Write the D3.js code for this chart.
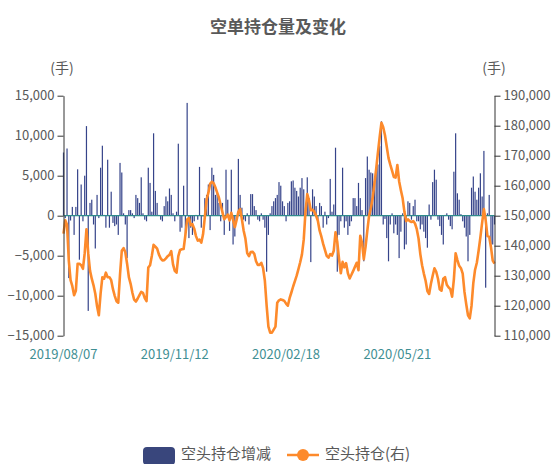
<!DOCTYPE html>
<html>
<head>
<meta charset="utf-8">
<script src="https://cdn.jsdelivr.net/npm/d3@7"></script>
<style>
  body { margin: 0; background: #fff; }
  svg text { font-family: "Noto Sans CJK SC", "Noto Sans", sans-serif; }
</style>
</head>
<body>
<script>
// trading calendar: first day and exchange holidays
const startDate = "2019-08-07";
const holidays = ["2019-09-13", "2019-10-01", "2019-10-02", "2019-10-03", "2019-10-04", "2019-10-07",
  "2020-01-01", "2020-01-24", "2020-01-27", "2020-01-28", "2020-01-29", "2020-01-30", "2020-01-31",
  "2020-04-06", "2020-05-01", "2020-05-04", "2020-05-05", "2020-06-25", "2020-06-26"];

// 空头持仓增减 (left axis)
const changeVals = [
  7900, -300, 8400, -7800, -600, 1100, -2400, 1100, 5800, -5500,
  3900, -700, 5000, 11200, -11900, 1600, 2000, -1100, -4100, 2600,
  -300, 6000, 8750, 100, -1500, 7000, -1500, 3000, -900, -1300,
  -1100, -2400, 6600, 5400, 300, -1100, -5300, 700, 700, 300,
  -300, 2600, 2200, 1600, 4800, 300, -500, -700, 6000, 4100,
  500, 10300, 3100, 1600, 100, -500, -700, 1200, 2400, 1800,
  3400, 2600, 300, -700, 500, 9000, -2000, -1500, 3750, -2800,
  14100, -2800, -1500, -2400, -700, 100, -500, 6100, -1500, -100,
  2200, 2600, 3900, -1800, 6000, 5100, 2600, 3000, 1600, -700,
  1600, -2400, 5750, 2000, -1900, 5750, -3600, -2600, -500, 7100,
  2600, 1000, -500, -700, 300, -1100, 2700, 2700, 1200, 700,
  -500, -700, 300, -500, -1500, -7000, -2400, 300, 1200, 1800,
  2200, 2600, 4200, 3750, 1800, 1200, -700, 1600, 1800, 4300,
  4400, 3500, 3100, 2400, 3500, 4700, 3300, 1000, 4800, 2200,
  -5800, 3300, 2400, 1200, -700, 1600, 1200, -1500, 500, -1100,
  -300, 4600, 500, 1400, 8500, -7000, -2400, -700, 6000, -1500,
  -700, -2400, -1300, -700, 2200, 2200, 1200, 4100, 2200, 700,
  -5700, 4700, 7400, 5750, 5400, 5300, 4300, 6000, 6400, 8700,
  11800, -1100, -400, -2800, -5700, -1100, 300, -2200, -1100, -2400,
  -5300, -2000, 300, -4200, -3600, 1800, 1600, -500, 1200, 2000,
  -700, -700, -1700, -1100, -2000, -2800, -4000, 1400, -500, 4200,
  5750, 4500, -500, -1300, -2400, -3600, 100, 300, -500, -1300,
  -1700, 5500, 10300, 2800, 2000, 200, -700, -1500, -2600, -5700,
  -2400, 3500, 4900, 3000, 2000, 3500, 5300, 2400, 8100, -9000,
  300, 2600, -3600, -3600, -1100
];

// 空头持仓 (right axis)
const positionVals = [
  144000, 148500, 147000, 135000, 128500, 126500, 123500, 125000, 134000, 134000,
  133500, 132300, 137500, 145500, 137500, 131700, 129000, 126800, 124000, 119800,
  116800, 124000, 129500, 129000, 131000, 129500, 129500, 128500, 125500, 123300,
  121500, 121000, 130400, 138300, 139200, 137800, 134000, 129500, 127300, 124300,
  122000, 121400, 122400, 123500, 124600, 124300, 122500, 121500, 132700, 133500,
  136600, 140300, 139700, 139000, 137100, 135800, 135100, 135200, 135800, 136500,
  137000, 138200, 133800, 131600, 131000, 136500, 138600, 138800, 138900, 143500,
  148700, 149200, 146800, 147200, 145700, 143200, 141700, 142000, 141000, 143800,
  149500, 155300, 157600, 160600, 161300, 160800, 159400, 157700, 156000, 153500,
  151100, 148800, 149600, 150400, 148400, 151000, 148600, 146200, 148600, 151300,
  152200, 148800, 145000, 142300, 137500, 136500, 137900, 138000, 137300, 134800,
  133600, 133600, 134300, 132500, 128300, 120000, 113000, 111000, 111000, 112000,
  113000, 121000, 121800, 122100, 121900, 121600, 120700, 120000, 122500, 124400,
  126400, 128200, 130000, 132200, 134500, 137100, 142000, 151400, 157200, 155000,
  151800, 152000, 151300, 150000, 148300, 145000, 143000, 140600, 138600, 136600,
  136000, 137200, 136700, 138300, 144500, 141200, 135500, 130800, 134600, 132800,
  134200, 130800, 129100, 130300, 131600, 133000, 134300, 131800, 143300, 141000,
  135500, 139600, 145000, 150000, 152500, 155800, 160600, 165500, 171000, 176300,
  181000, 179500, 176800, 173000, 169200, 167000, 165000, 162900, 162700, 166900,
  161500, 158500, 155800, 151300, 148200, 148800, 148200, 147900, 148200, 147400,
  145500, 142400, 137200, 133500, 130700, 128300, 124900, 123900, 127300, 130000,
  132500, 131300, 129000, 125500, 125000, 129000, 129500, 127000, 126100, 125500,
  123000, 128800, 137500, 135200, 133300, 132500, 130700, 124600, 120500, 116800,
  115800, 120000, 127500, 132000, 134300, 138300, 142800, 147700, 152200, 148500,
  143200, 143000, 139500, 135000, 134000
];

const leftTicks = [-15000, -10000, -5000, 0, 5000, 10000, 15000];
const rightTicks = [110000, 120000, 130000, 140000, 150000, 160000, 170000, 180000, 190000];
const labelEvery = 63;
const seriesNames = ["空头持仓增减", "空头持仓(右)"];
const titleText = "空单持仓量及变化";

// build the trading-day categories
const fmtKey = d3.timeFormat("%Y-%m-%d");
const fmtLabel = d3.timeFormat("%Y/%m/%d");
const holidaySet = new Set(holidays);
const dates = [];
let day = d3.timeParse("%Y-%m-%d")(startDate);
while (dates.length < changeVals.length) {
  const wd = day.getDay();
  if (wd !== 0 && wd !== 6 && !holidaySet.has(fmtKey(day))) dates.push(fmtLabel(day));
  day = d3.timeDay.offset(day, 1);
}

const width = 554, height = 464;
const plot = { left: 63.5, right: 494.5, top: 95.7, bottom: 335.7 };

const svg = d3.select("body").append("svg")
  .attr("width", width)
  .attr("height", height);

const x = d3.scalePoint().domain(dates).range([plot.left, plot.right]);
const yL = d3.scaleLinear().domain([-15000, 15000]).range([plot.bottom, plot.top]);
const yR = d3.scaleLinear().domain([110000, 190000]).range([plot.bottom, plot.top]);

// title and units
svg.append("text")
  .attr("x", 278).attr("y", 33)
  .attr("text-anchor", "middle")
  .attr("font-size", 17).attr("font-weight", "bold")
  .attr("fill", "#595959")
  .text(titleText);

svg.append("text").attr("x", 62).attr("y", 73).attr("text-anchor", "middle")
  .attr("font-size", 14).attr("fill", "#595959").text("(手)");
svg.append("text").attr("x", 494).attr("y", 73).attr("text-anchor", "middle")
  .attr("font-size", 14).attr("fill", "#595959").text("(手)");

// bars
const barW = 1.2;
svg.append("g")
  .selectAll("rect")
  .data(changeVals)
  .enter().append("rect")
  .attr("x", (d, i) => x(dates[i]) - barW / 2)
  .attr("y", d => yL(Math.max(0, d)))
  .attr("width", barW)
  .attr("height", d => Math.abs(yL(d) - yL(0)))
  .attr("fill", "#36448a");

// zero line (category axis)
svg.append("line")
  .attr("x1", plot.left).attr("x2", plot.right)
  .attr("y1", yL(0)).attr("y2", yL(0))
  .attr("stroke", "#2f8c8c").attr("stroke-width", 1.3);

// position line
const line = d3.line()
  .x((d, i) => x(dates[i]))
  .y(d => yR(d));

svg.append("path")
  .datum(positionVals)
  .attr("fill", "none")
  .attr("stroke", "#fd8a2b")
  .attr("stroke-width", 2.6)
  .attr("stroke-linejoin", "round")
  .attr("d", line);

// left axis
const axL = svg.append("g")
  .attr("transform", `translate(${plot.left},0)`)
  .call(d3.axisLeft(yL).tickValues(leftTicks).tickFormat(d3.format(",")).tickSize(6).tickSizeOuter(0));
// right axis
const axR = svg.append("g")
  .attr("transform", `translate(${plot.right},0)`)
  .call(d3.axisRight(yR).tickValues(rightTicks).tickFormat(d3.format(",")).tickSize(6).tickSizeOuter(0));

[axL, axR].forEach(ax => {
  ax.select(".domain").attr("stroke", "#333");
  ax.selectAll(".tick line").attr("stroke", "#333");
  ax.selectAll(".tick text")
    .attr("font-size", 13)
    .attr("fill", "#595959")
    .style("font-family", "'Noto Sans CJK SC', sans-serif");
});
axL.selectAll(".tick text").attr("x", -9);
axR.selectAll(".tick text").attr("x", 9);

// category labels
svg.append("g")
  .selectAll("text")
  .data(dates.filter((d, i) => i % labelEvery === 0))
  .enter().append("text")
  .attr("x", d => x(d))
  .attr("y", 359)
  .attr("text-anchor", "middle")
  .attr("font-size", 13)
  .attr("fill", "#3f8f93")
  .text(d => d);

// legend
const lg = svg.append("g");
lg.append("rect")
  .attr("x", 143).attr("y", 447).attr("width", 32).attr("height", 18).attr("rx", 4)
  .attr("fill", "#39467c");
lg.append("text").attr("x", 181).attr("y", 459)
  .attr("font-size", 15).attr("fill", "#595959").text(seriesNames[0]);
lg.append("line")
  .attr("x1", 287).attr("x2", 319).attr("y1", 455).attr("y2", 455)
  .attr("stroke", "#fd8a2b").attr("stroke-width", 2.5);
lg.append("circle").attr("cx", 303).attr("cy", 455).attr("r", 6)
  .attr("fill", "#fd8a2b");
lg.append("text").attr("x", 325).attr("y", 459)
  .attr("font-size", 15).attr("fill", "#595959").text(seriesNames[1]);
</script>
</body>
</html>
